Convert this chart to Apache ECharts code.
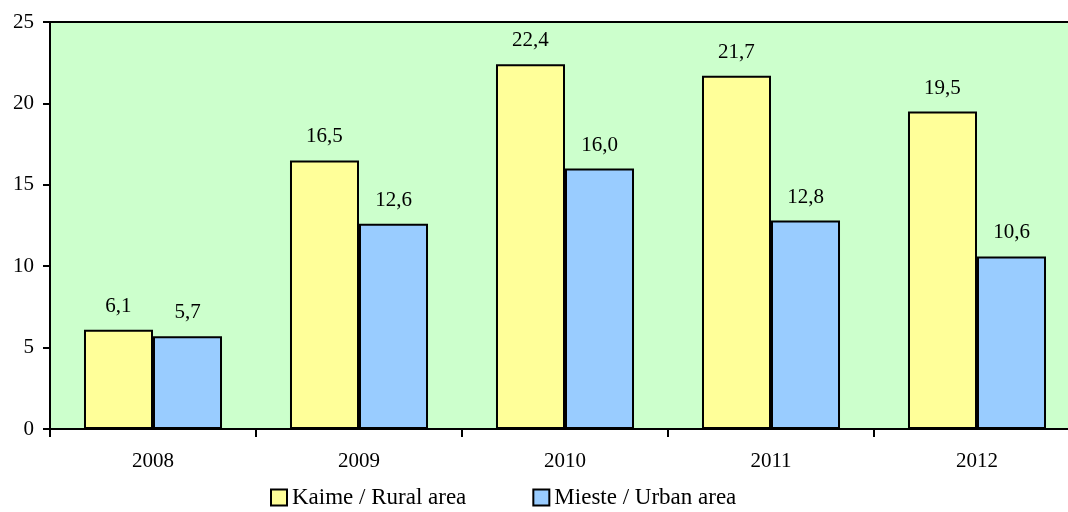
<!DOCTYPE html>
<html>
<head>
<meta charset="utf-8">
<script src="https://cdn.jsdelivr.net/npm/echarts@6/dist/echarts.min.js"></script>
<style>html,body{margin:0;padding:0;background:#fff}#c{width:1068px;height:512px}</style>
</head>
<body>
<div id="c"></div>
<script>
const categories = ['2008', '2009', '2010', '2011', '2012'];
const ruralName = 'Kaime / Rural area';
const urbanName = 'Mieste / Urban area';
const rural = [6.1, 16.5, 22.4, 21.7, 19.5];
const urban = [5.7, 12.6, 16.0, 12.8, 10.6];
const yTicks = [0, 5, 10, 15, 20, 25];

const font = '"Liberation Serif", "Times New Roman", serif';
const fmt = p => p.value.toFixed(1).replace('.', ',');
const chart = echarts.init(document.getElementById('c'));
const barLabel = {
  show: true, position: 'top', distance: 13, formatter: fmt,
  fontFamily: font, fontSize: 21, color: '#000'
};
chart.setOption({
  animation: false,
  textStyle: { fontFamily: font },
  grid: {
    left: 50, top: 22, width: 1030, height: 407, outerBoundsMode: 'none', containLabel: false,
    show: true, backgroundColor: '#CCFFCC', borderColor: '#000', borderWidth: 2
  },
  legend: {
    left: 265, top: 481, itemWidth: 16, itemHeight: 16, itemGap: 66, icon: 'rect',
    itemStyle: { borderColor: '#000', borderWidth: 2 },
    textStyle: { fontFamily: font, fontSize: 23, color: '#000' },
    data: [ruralName, urbanName]
  },
  xAxis: {
    type: 'category', data: categories,
    axisLine: { lineStyle: { color: '#000', width: 2 } },
    axisTick: { show: true, length: 8, lineStyle: { color: '#000', width: 2 } },
    axisLabel: { margin: 22, fontFamily: font, fontSize: 21, color: '#000' }
  },
  yAxis: {
    type: 'value', min: yTicks[0], max: yTicks[yTicks.length - 1], interval: 5,
    axisLine: { show: true, lineStyle: { color: '#000', width: 2 } },
    axisTick: { show: true, length: 7, lineStyle: { color: '#000', width: 2 } },
    axisLabel: { margin: 16, fontFamily: font, fontSize: 21, color: '#000' },
    splitLine: { show: false }
  },
  series: [
    { name: ruralName, type: 'bar', data: rural, barGap: '0%', barCategoryGap: '33%',
      itemStyle: { color: '#FFFF99', borderColor: '#000', borderWidth: 2 }, label: barLabel },
    { name: urbanName, type: 'bar', data: urban, barGap: '0%', barCategoryGap: '33%',
      itemStyle: { color: '#99CCFF', borderColor: '#000', borderWidth: 2 }, label: barLabel }
  ]
});
</script>
</body>
</html>
